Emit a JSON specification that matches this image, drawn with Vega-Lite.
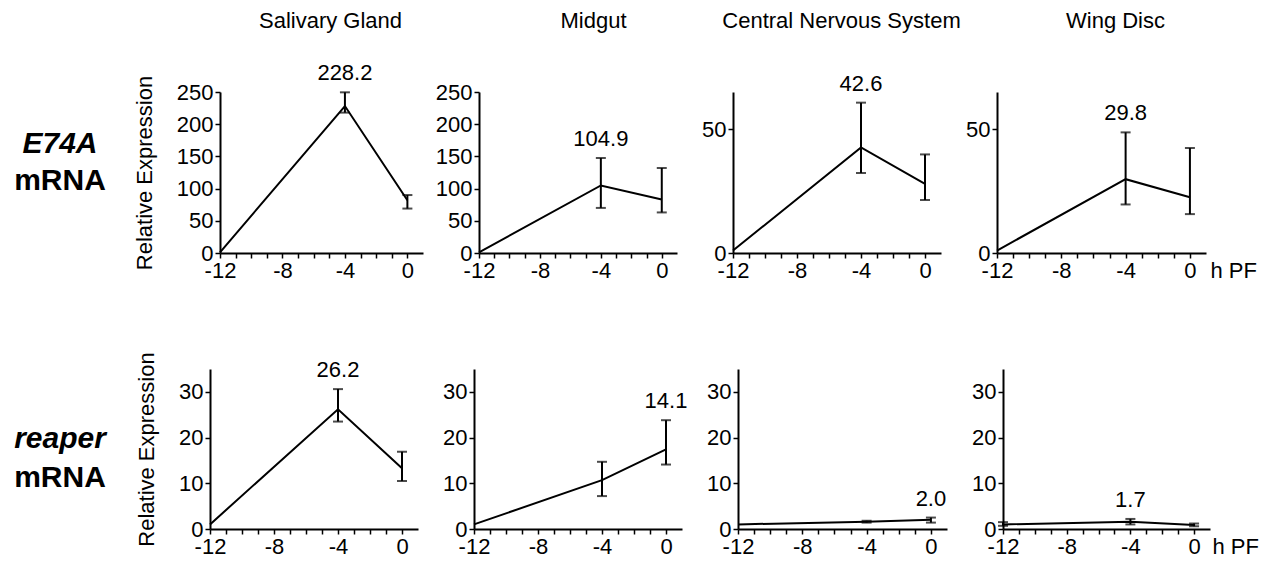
{
  "$schema": "https://vega.github.io/schema/vega-lite/v6.json",
  "padding": {"left": 4, "top": 9, "right": 0, "bottom": 0},
  "autosize": {"type": "pad"},
  "spacing": 70,
  "datasets": {
    "d": [
      {"gene": "E74A", "tissue": "Salivary Gland", "t": -12, "v": 1, "lo": null, "hi": null, "label": ""},
      {"gene": "E74A", "tissue": "Salivary Gland", "t": -4, "v": 228.2, "lo": 218, "hi": 249.5, "label": "228.2"},
      {"gene": "E74A", "tissue": "Salivary Gland", "t": 0, "v": 82, "lo": 69, "hi": 90, "label": ""},
      {"gene": "E74A", "tissue": "Midgut", "t": -12, "v": 1, "lo": null, "hi": null, "label": ""},
      {"gene": "E74A", "tissue": "Midgut", "t": -4, "v": 104.9, "lo": 70, "hi": 147.5, "label": "104.9"},
      {"gene": "E74A", "tissue": "Midgut", "t": 0, "v": 83, "lo": 63, "hi": 132, "label": ""},
      {"gene": "E74A", "tissue": "Central Nervous System", "t": -12, "v": 1, "lo": null, "hi": null, "label": ""},
      {"gene": "E74A", "tissue": "Central Nervous System", "t": -4, "v": 42.6, "lo": 32.3, "hi": 60.7, "label": "42.6"},
      {"gene": "E74A", "tissue": "Central Nervous System", "t": 0, "v": 27.9, "lo": 21.4, "hi": 39.8, "label": ""},
      {"gene": "E74A", "tissue": "Wing Disc", "t": -12, "v": 1, "lo": null, "hi": null, "label": ""},
      {"gene": "E74A", "tissue": "Wing Disc", "t": -4, "v": 29.8, "lo": 19.6, "hi": 48.7, "label": "29.8"},
      {"gene": "E74A", "tissue": "Wing Disc", "t": 0, "v": 22.5, "lo": 15.7, "hi": 42.4, "label": ""},
      {"gene": "reaper", "tissue": "Salivary Gland", "t": -12, "v": 1, "lo": null, "hi": null, "label": ""},
      {"gene": "reaper", "tissue": "Salivary Gland", "t": -4, "v": 26.2, "lo": 23.5, "hi": 30.6, "label": "26.2"},
      {"gene": "reaper", "tissue": "Salivary Gland", "t": 0, "v": 13.3, "lo": 10.5, "hi": 16.9, "label": ""},
      {"gene": "reaper", "tissue": "Midgut", "t": -12, "v": 1, "lo": null, "hi": null, "label": ""},
      {"gene": "reaper", "tissue": "Midgut", "t": -4, "v": 10.7, "lo": 7.2, "hi": 14.7, "label": ""},
      {"gene": "reaper", "tissue": "Midgut", "t": 0, "v": 17.4, "lo": 14.1, "hi": 23.8, "label": "14.1"},
      {"gene": "reaper", "tissue": "Central Nervous System", "t": -12, "v": 1, "lo": null, "hi": null, "label": ""},
      {"gene": "reaper", "tissue": "Central Nervous System", "t": -4, "v": 1.6, "lo": 1.4, "hi": 1.8, "label": ""},
      {"gene": "reaper", "tissue": "Central Nervous System", "t": 0, "v": 2.0, "lo": 1.4, "hi": 2.5, "label": "2.0"},
      {"gene": "reaper", "tissue": "Wing Disc", "t": -12, "v": 1, "lo": 0.7, "hi": 1.5, "label": ""},
      {"gene": "reaper", "tissue": "Wing Disc", "t": -4, "v": 1.6, "lo": 1.0, "hi": 2.2, "label": "1.7"},
      {"gene": "reaper", "tissue": "Wing Disc", "t": 0, "v": 0.9, "lo": 0.6, "hi": 1.2, "label": ""}
    ]
  },
  "vconcat": [
    {
      "spacing": 56,
      "bounds": "flush",
      "hconcat": [
        {
          "width": 160, "height": 161,
          "layer": [
            {"data": {"values": [{"t": "E74A"}]}, "mark": {"type": "text", "fontSize": 30, "fontWeight": "bold", "fontStyle": "italic", "baseline": "alphabetic", "dx": -24, "dy": -19.5}, "encoding": {"text": {"field": "t"}}},
            {"data": {"values": [{"t": "mRNA"}]}, "mark": {"type": "text", "fontSize": 30, "fontWeight": "bold", "baseline": "alphabetic", "dx": -24, "dy": 17.5}, "encoding": {"text": {"field": "t"}}}
          ]
        },
        {
          "width": 203, "height": 161,
          "data": {"name": "d"},
          "transform": [{"filter": "datum.gene === 'E74A' && datum.tissue === 'Salivary Gland'"}],
          "resolve": {"axis": {"x": "independent", "y": "independent"}},
          "layer": [
            {"mark": {"type": "line", "color": "black", "strokeWidth": 2},
             "encoding": {
               "x": {"field": "t", "type": "quantitative", "scale": {"domain": [-12, 1], "nice": false, "zero": false},
                     "axis": {"orient": "bottom", "title": null, "values": [-12,-11,-10,-9,-8,-7,-6,-5,-4,-3,-2,-1,0], "labelExpr": "datum.value % 4 === 0 ? '' + datum.value : ''", "labelFlush": false, "labelOverlap": false}},
               "y": {"field": "v", "type": "quantitative", "scale": {"domain": [0, 250], "nice": false},
                     "axis": {"orient": "left", "values": [0,50,100,150,200,250], "title": "Relative Expression", "titlePadding": 25, "titleBaseline": "alphabetic", "labelFlush": false, "labelOverlap": false}}
             }},
            {"mark": {"type": "rule", "color": "black", "strokeWidth": 2},
             "encoding": {
               "x": {"field": "t", "type": "quantitative", "axis": {"orient": "top", "title": "Salivary Gland", "labels": false, "ticks": false, "domain": false, "titleX": 110, "titleY": -65, "titleBaseline": "alphabetic", "titleAlign": "center"}},
               "y": {"field": "lo", "type": "quantitative", "axis": null},
               "y2": {"field": "hi"}
             }},
            {"mark": {"type": "tick", "orient": "horizontal", "size": 10, "thickness": 2, "color": "black"},
             "encoding": {"x": {"field": "t", "type": "quantitative", "axis": null}, "y": {"field": "lo", "type": "quantitative", "axis": null}}},
            {"mark": {"type": "tick", "orient": "horizontal", "size": 10, "thickness": 2, "color": "black"},
             "encoding": {"x": {"field": "t", "type": "quantitative", "axis": null}, "y": {"field": "hi", "type": "quantitative", "axis": null}}},
            {"transform": [{"filter": "datum.label !== ''"}],
             "mark": {"type": "text", "fontSize": 22, "dy": -12, "baseline": "alphabetic"},
             "encoding": {"x": {"field": "t", "type": "quantitative", "axis": null}, "y": {"field": "hi", "type": "quantitative", "axis": null}, "text": {"field": "label"}}}
          ]
        },
        {
          "width": 198, "height": 161,
          "data": {"name": "d"},
          "transform": [{"filter": "datum.gene === 'E74A' && datum.tissue === 'Midgut'"}],
          "resolve": {"axis": {"x": "independent", "y": "independent"}},
          "layer": [
            {"mark": {"type": "line", "color": "black", "strokeWidth": 2},
             "encoding": {
               "x": {"field": "t", "type": "quantitative", "scale": {"domain": [-12, 1], "nice": false, "zero": false},
                     "axis": {"orient": "bottom", "title": null, "values": [-12,-11,-10,-9,-8,-7,-6,-5,-4,-3,-2,-1,0], "labelExpr": "datum.value % 4 === 0 ? '' + datum.value : ''", "labelFlush": false, "labelOverlap": false}},
               "y": {"field": "v", "type": "quantitative", "scale": {"domain": [0, 250], "nice": false},
                     "axis": {"orient": "left", "values": [0,50,100,150,200,250], "title": null, "labelFlush": false, "labelOverlap": false}}
             }},
            {"mark": {"type": "rule", "color": "black", "strokeWidth": 2},
             "encoding": {
               "x": {"field": "t", "type": "quantitative", "axis": {"orient": "top", "title": "Midgut", "labels": false, "ticks": false, "domain": false, "titleX": 114, "titleY": -65, "titleBaseline": "alphabetic", "titleAlign": "center"}},
               "y": {"field": "lo", "type": "quantitative", "axis": null},
               "y2": {"field": "hi"}
             }},
            {"mark": {"type": "tick", "orient": "horizontal", "size": 10, "thickness": 2, "color": "black"},
             "encoding": {"x": {"field": "t", "type": "quantitative", "axis": null}, "y": {"field": "lo", "type": "quantitative", "axis": null}}},
            {"mark": {"type": "tick", "orient": "horizontal", "size": 10, "thickness": 2, "color": "black"},
             "encoding": {"x": {"field": "t", "type": "quantitative", "axis": null}, "y": {"field": "hi", "type": "quantitative", "axis": null}}},
            {"transform": [{"filter": "datum.label !== ''"}],
             "mark": {"type": "text", "fontSize": 22, "dy": -12, "baseline": "alphabetic"},
             "encoding": {"x": {"field": "t", "type": "quantitative", "axis": null}, "y": {"field": "hi", "type": "quantitative", "axis": null}, "text": {"field": "label"}}}
          ]
        },
        {
          "width": 208, "height": 161,
          "data": {"name": "d"},
          "transform": [{"filter": "datum.gene === 'E74A' && datum.tissue === 'Central Nervous System'"}],
          "resolve": {"axis": {"x": "independent", "y": "independent"}},
          "layer": [
            {"mark": {"type": "line", "color": "black", "strokeWidth": 2},
             "encoding": {
               "x": {"field": "t", "type": "quantitative", "scale": {"domain": [-12, 1], "nice": false, "zero": false},
                     "axis": {"orient": "bottom", "title": null, "values": [-12,-11,-10,-9,-8,-7,-6,-5,-4,-3,-2,-1,0], "labelExpr": "datum.value % 4 === 0 ? '' + datum.value : ''", "labelFlush": false, "labelOverlap": false}},
               "y": {"field": "v", "type": "quantitative", "scale": {"domain": [0, 65], "nice": false},
                     "axis": {"orient": "left", "values": [0,50], "title": null, "labelFlush": false, "labelOverlap": false}}
             }},
            {"mark": {"type": "rule", "color": "black", "strokeWidth": 2},
             "encoding": {
               "x": {"field": "t", "type": "quantitative", "axis": {"orient": "top", "title": "Central Nervous System", "labels": false, "ticks": false, "domain": false, "titleX": 108, "titleY": -65, "titleBaseline": "alphabetic", "titleAlign": "center"}},
               "y": {"field": "lo", "type": "quantitative", "axis": null},
               "y2": {"field": "hi"}
             }},
            {"mark": {"type": "tick", "orient": "horizontal", "size": 10, "thickness": 2, "color": "black"},
             "encoding": {"x": {"field": "t", "type": "quantitative", "axis": null}, "y": {"field": "lo", "type": "quantitative", "axis": null}}},
            {"mark": {"type": "tick", "orient": "horizontal", "size": 10, "thickness": 2, "color": "black"},
             "encoding": {"x": {"field": "t", "type": "quantitative", "axis": null}, "y": {"field": "hi", "type": "quantitative", "axis": null}}},
            {"transform": [{"filter": "datum.label !== ''"}],
             "mark": {"type": "text", "fontSize": 22, "dy": -12, "baseline": "alphabetic"},
             "encoding": {"x": {"field": "t", "type": "quantitative", "axis": null}, "y": {"field": "hi", "type": "quantitative", "axis": null}, "text": {"field": "label"}}}
          ]
        },
        {
          "width": 209, "height": 161,
          "data": {"name": "d"},
          "transform": [{"filter": "datum.gene === 'E74A' && datum.tissue === 'Wing Disc'"}],
          "resolve": {"axis": {"x": "independent", "y": "independent"}},
          "layer": [
            {"mark": {"type": "line", "color": "black", "strokeWidth": 2},
             "encoding": {
               "x": {"field": "t", "type": "quantitative", "scale": {"domain": [-12, 1], "nice": false, "zero": false},
                     "axis": {"orient": "bottom", "title": "h PF", "titleX": 213, "titleY": 7, "titleAlign": "left", "titleBaseline": "top", "values": [-12,-11,-10,-9,-8,-7,-6,-5,-4,-3,-2,-1,0], "labelExpr": "datum.value % 4 === 0 ? '' + datum.value : ''", "labelFlush": false, "labelOverlap": false}},
               "y": {"field": "v", "type": "quantitative", "scale": {"domain": [0, 65], "nice": false},
                     "axis": {"orient": "left", "values": [0,50], "title": null, "labelFlush": false, "labelOverlap": false}}
             }},
            {"mark": {"type": "rule", "color": "black", "strokeWidth": 2},
             "encoding": {
               "x": {"field": "t", "type": "quantitative", "axis": {"orient": "top", "title": "Wing Disc", "labels": false, "ticks": false, "domain": false, "titleX": 118, "titleY": -65, "titleBaseline": "alphabetic", "titleAlign": "center"}},
               "y": {"field": "lo", "type": "quantitative", "axis": null},
               "y2": {"field": "hi"}
             }},
            {"mark": {"type": "tick", "orient": "horizontal", "size": 10, "thickness": 2, "color": "black"},
             "encoding": {"x": {"field": "t", "type": "quantitative", "axis": null}, "y": {"field": "lo", "type": "quantitative", "axis": null}}},
            {"mark": {"type": "tick", "orient": "horizontal", "size": 10, "thickness": 2, "color": "black"},
             "encoding": {"x": {"field": "t", "type": "quantitative", "axis": null}, "y": {"field": "hi", "type": "quantitative", "axis": null}}},
            {"transform": [{"filter": "datum.label !== ''"}],
             "mark": {"type": "text", "fontSize": 22, "dy": -12, "baseline": "alphabetic"},
             "encoding": {"x": {"field": "t", "type": "quantitative", "axis": null}, "y": {"field": "hi", "type": "quantitative", "axis": null}, "text": {"field": "label"}}}
          ]
        }
      ]
    },
    {
      "spacing": 56,
      "bounds": "flush",
      "hconcat": [
        {
          "width": 150, "height": 160,
          "layer": [
            {"data": {"values": [{"t": "reaper"}]}, "mark": {"type": "text", "fontSize": 30, "fontWeight": "bold", "fontStyle": "italic", "baseline": "alphabetic", "dx": -19, "dy": -1}, "encoding": {"text": {"field": "t"}}},
            {"data": {"values": [{"t": "mRNA"}]}, "mark": {"type": "text", "fontSize": 30, "fontWeight": "bold", "baseline": "alphabetic", "dx": -19, "dy": 38}, "encoding": {"text": {"field": "t"}}}
          ]
        },
        {
          "width": 208, "height": 160,
          "data": {"name": "d"},
          "transform": [{"filter": "datum.gene === 'reaper' && datum.tissue === 'Salivary Gland'"}],
          "resolve": {"axis": {"x": "independent", "y": "independent"}},
          "layer": [
            {"mark": {"type": "line", "color": "black", "strokeWidth": 2},
             "encoding": {
               "x": {"field": "t", "type": "quantitative", "scale": {"domain": [-12, 1], "nice": false, "zero": false},
                     "axis": {"orient": "bottom", "title": null, "values": [-12,-11,-10,-9,-8,-7,-6,-5,-4,-3,-2,-1,0], "labelExpr": "datum.value % 4 === 0 ? '' + datum.value : ''", "labelFlush": false, "labelOverlap": false}},
               "y": {"field": "v", "type": "quantitative", "scale": {"domain": [0, 35], "nice": false},
                     "axis": {"orient": "left", "values": [0,10,20,30], "title": "Relative Expression", "titlePadding": 25, "titleBaseline": "alphabetic", "labelFlush": false, "labelOverlap": false}}
             }},
            {"mark": {"type": "rule", "color": "black", "strokeWidth": 2},
             "encoding": {
               "x": {"field": "t", "type": "quantitative", "axis": null},
               "y": {"field": "lo", "type": "quantitative", "axis": null},
               "y2": {"field": "hi"}
             }},
            {"mark": {"type": "tick", "orient": "horizontal", "size": 10, "thickness": 2, "color": "black"},
             "encoding": {"x": {"field": "t", "type": "quantitative", "axis": null}, "y": {"field": "lo", "type": "quantitative", "axis": null}}},
            {"mark": {"type": "tick", "orient": "horizontal", "size": 10, "thickness": 2, "color": "black"},
             "encoding": {"x": {"field": "t", "type": "quantitative", "axis": null}, "y": {"field": "hi", "type": "quantitative", "axis": null}}},
            {"transform": [{"filter": "datum.label !== ''"}],
             "mark": {"type": "text", "fontSize": 22, "dy": -12, "baseline": "alphabetic"},
             "encoding": {"x": {"field": "t", "type": "quantitative", "axis": null}, "y": {"field": "hi", "type": "quantitative", "axis": null}, "text": {"field": "label"}}}
          ]
        },
        {
          "width": 208, "height": 160,
          "data": {"name": "d"},
          "transform": [{"filter": "datum.gene === 'reaper' && datum.tissue === 'Midgut'"}],
          "resolve": {"axis": {"x": "independent", "y": "independent"}},
          "layer": [
            {"mark": {"type": "line", "color": "black", "strokeWidth": 2},
             "encoding": {
               "x": {"field": "t", "type": "quantitative", "scale": {"domain": [-12, 1], "nice": false, "zero": false},
                     "axis": {"orient": "bottom", "title": null, "values": [-12,-11,-10,-9,-8,-7,-6,-5,-4,-3,-2,-1,0], "labelExpr": "datum.value % 4 === 0 ? '' + datum.value : ''", "labelFlush": false, "labelOverlap": false}},
               "y": {"field": "v", "type": "quantitative", "scale": {"domain": [0, 35], "nice": false},
                     "axis": {"orient": "left", "values": [0,10,20,30], "title": null, "labelFlush": false, "labelOverlap": false}}
             }},
            {"mark": {"type": "rule", "color": "black", "strokeWidth": 2},
             "encoding": {
               "x": {"field": "t", "type": "quantitative", "axis": null},
               "y": {"field": "lo", "type": "quantitative", "axis": null},
               "y2": {"field": "hi"}
             }},
            {"mark": {"type": "tick", "orient": "horizontal", "size": 10, "thickness": 2, "color": "black"},
             "encoding": {"x": {"field": "t", "type": "quantitative", "axis": null}, "y": {"field": "lo", "type": "quantitative", "axis": null}}},
            {"mark": {"type": "tick", "orient": "horizontal", "size": 10, "thickness": 2, "color": "black"},
             "encoding": {"x": {"field": "t", "type": "quantitative", "axis": null}, "y": {"field": "hi", "type": "quantitative", "axis": null}}},
            {"transform": [{"filter": "datum.label !== ''"}],
             "mark": {"type": "text", "fontSize": 22, "dy": -12, "baseline": "alphabetic"},
             "encoding": {"x": {"field": "t", "type": "quantitative", "axis": null}, "y": {"field": "hi", "type": "quantitative", "axis": null}, "text": {"field": "label"}}}
          ]
        },
        {
          "width": 209, "height": 160,
          "data": {"name": "d"},
          "transform": [{"filter": "datum.gene === 'reaper' && datum.tissue === 'Central Nervous System'"}],
          "resolve": {"axis": {"x": "independent", "y": "independent"}},
          "layer": [
            {"mark": {"type": "line", "color": "black", "strokeWidth": 2},
             "encoding": {
               "x": {"field": "t", "type": "quantitative", "scale": {"domain": [-12, 1], "nice": false, "zero": false},
                     "axis": {"orient": "bottom", "title": null, "values": [-12,-11,-10,-9,-8,-7,-6,-5,-4,-3,-2,-1,0], "labelExpr": "datum.value % 4 === 0 ? '' + datum.value : ''", "labelFlush": false, "labelOverlap": false}},
               "y": {"field": "v", "type": "quantitative", "scale": {"domain": [0, 35], "nice": false},
                     "axis": {"orient": "left", "values": [0,10,20,30], "title": null, "labelFlush": false, "labelOverlap": false}}
             }},
            {"mark": {"type": "rule", "color": "black", "strokeWidth": 2},
             "encoding": {
               "x": {"field": "t", "type": "quantitative", "axis": null},
               "y": {"field": "lo", "type": "quantitative", "axis": null},
               "y2": {"field": "hi"}
             }},
            {"mark": {"type": "tick", "orient": "horizontal", "size": 10, "thickness": 2, "color": "black"},
             "encoding": {"x": {"field": "t", "type": "quantitative", "axis": null}, "y": {"field": "lo", "type": "quantitative", "axis": null}}},
            {"mark": {"type": "tick", "orient": "horizontal", "size": 10, "thickness": 2, "color": "black"},
             "encoding": {"x": {"field": "t", "type": "quantitative", "axis": null}, "y": {"field": "hi", "type": "quantitative", "axis": null}}},
            {"transform": [{"filter": "datum.label !== ''"}],
             "mark": {"type": "text", "fontSize": 22, "dy": -12, "baseline": "alphabetic"},
             "encoding": {"x": {"field": "t", "type": "quantitative", "axis": null}, "y": {"field": "hi", "type": "quantitative", "axis": null}, "text": {"field": "label"}}}
          ]
        },
        {
          "width": 207, "height": 160,
          "data": {"name": "d"},
          "transform": [{"filter": "datum.gene === 'reaper' && datum.tissue === 'Wing Disc'"}],
          "resolve": {"axis": {"x": "independent", "y": "independent"}},
          "layer": [
            {"mark": {"type": "line", "color": "black", "strokeWidth": 2},
             "encoding": {
               "x": {"field": "t", "type": "quantitative", "scale": {"domain": [-12, 1], "nice": false, "zero": false},
                     "axis": {"orient": "bottom", "title": "h PF", "titleX": 209, "titleY": 7, "titleAlign": "left", "titleBaseline": "top", "values": [-12,-11,-10,-9,-8,-7,-6,-5,-4,-3,-2,-1,0], "labelExpr": "datum.value % 4 === 0 ? '' + datum.value : ''", "labelFlush": false, "labelOverlap": false}},
               "y": {"field": "v", "type": "quantitative", "scale": {"domain": [0, 35], "nice": false},
                     "axis": {"orient": "left", "values": [0,10,20,30], "title": null, "labelFlush": false, "labelOverlap": false}}
             }},
            {"mark": {"type": "rule", "color": "black", "strokeWidth": 2},
             "encoding": {
               "x": {"field": "t", "type": "quantitative", "axis": null},
               "y": {"field": "lo", "type": "quantitative", "axis": null},
               "y2": {"field": "hi"}
             }},
            {"mark": {"type": "tick", "orient": "horizontal", "size": 10, "thickness": 2, "color": "black"},
             "encoding": {"x": {"field": "t", "type": "quantitative", "axis": null}, "y": {"field": "lo", "type": "quantitative", "axis": null}}},
            {"mark": {"type": "tick", "orient": "horizontal", "size": 10, "thickness": 2, "color": "black"},
             "encoding": {"x": {"field": "t", "type": "quantitative", "axis": null}, "y": {"field": "hi", "type": "quantitative", "axis": null}}},
            {"transform": [{"filter": "datum.label !== ''"}],
             "mark": {"type": "text", "fontSize": 22, "dy": -12, "baseline": "alphabetic"},
             "encoding": {"x": {"field": "t", "type": "quantitative", "axis": null}, "y": {"field": "hi", "type": "quantitative", "axis": null}, "text": {"field": "label"}}}
          ]
        }
      ]
    }
  ],
  "config": {
    "view": {"stroke": null},
    "font": "Liberation Sans",
    "text": {"font": "Liberation Sans", "color": "black"},
    "axis": {
      "grid": false,
      "domainColor": "black", "domainWidth": 2,
      "tickColor": "black", "tickWidth": 1.5, "tickSize": 5,
      "labelColor": "black", "labelFont": "Liberation Sans", "labelFontSize": 22, "labelPadding": 2,
      "titleColor": "black", "titleFont": "Liberation Sans", "titleFontSize": 22, "titleFontWeight": "normal"
    }
  }
}
